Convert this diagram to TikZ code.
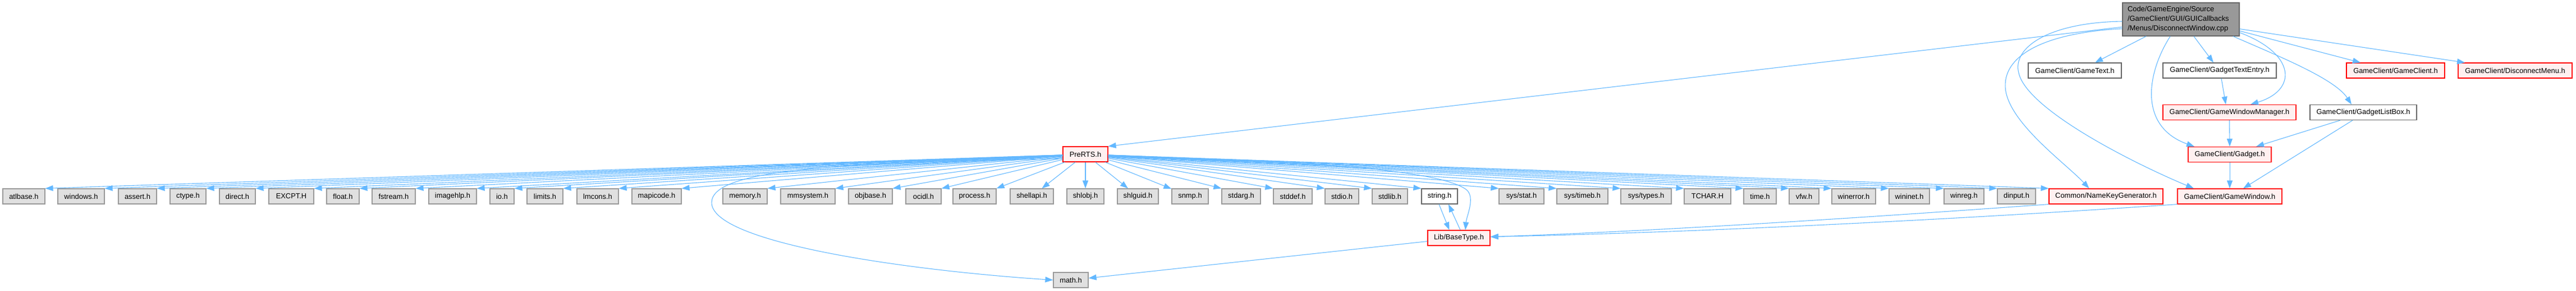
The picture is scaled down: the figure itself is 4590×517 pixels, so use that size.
\documentclass[tikz,border=0pt]{standalone}
\usepackage{fontspec}
\setmainfont{Liberation Sans}
\usetikzlibrary{arrows.meta}
\definecolor{gfill}{HTML}{E0E0E0}
\definecolor{gline}{HTML}{999999}
\definecolor{wline}{HTML}{666666}
\definecolor{rfill}{HTML}{FFF0F0}
\definecolor{rline}{HTML}{FF0000}
\definecolor{topfill}{HTML}{999999}
\definecolor{edgec}{HTML}{63B8FF}
\tikzset{
  box/.style={draw, rectangle, inner sep=0pt, minimum height=27pt, line width=1.2pt,
    font=\fontsize{12.9}{15}\selectfont, anchor=center},
  gbox/.style={box, draw=gline, fill=gfill},
  wbox/.style={box, draw=wline, fill=white},
  rbox/.style={box, draw=rline, fill=rfill},
  topbox/.style={box, draw=wline, fill=topfill, minimum height=59pt, text width=190pt,
    align=left, font=\fontsize{12.9}{17}\selectfont},
  edge/.style={draw=edgec, line width=1.1pt, -{Triangle[length=14pt,width=10pt]}},
}
\begin{document}
\begin{tikzpicture}[x=1pt,y=-1pt]
\useasboundingbox (0,0) rectangle (4590,517);
% top node
\node[topbox, minimum width=208pt] (top) at (3886,34.5) {Code/GameEngine/Source\\/GameClient/GUI/GUICallbacks\\/Menus/DisconnectWindow.cpp};
% second row
\node[wbox, minimum width=166pt] (gtext) at (3697,125.5) {GameClient/GameText.h};
\node[wbox, minimum width=202pt] (gte) at (3955,125.5) {GameClient/GadgetTextEntry.h};
\node[rbox, minimum width=175pt] (gcl) at (4268.5,125.5) {GameClient/GameClient.h};
\node[rbox, minimum width=203pt] (dmenu) at (4481.5,125.5) {GameClient/DisconnectMenu.h};
% third row
\node[rbox, minimum width=237pt] (gwm) at (3972.5,200) {GameClient/GameWindowManager.h};
\node[wbox, minimum width=190pt] (glb) at (4211,200) {GameClient/GadgetListBox.h};
% fourth row
\node[rbox, minimum width=80pt] (pre) at (1934,274.5) {PreRTS.h};
\node[rbox, minimum width=148pt] (gadget) at (3973,275) {GameClient/Gadget.h};
% main row
\node[gbox, minimum width=75pt] (atl) at (42.5,349.5) {atlbase.h};
\node[gbox, minimum width=83pt] (wnd) at (144.5,349.5) {windows.h};
\node[gbox, minimum width=68pt] (ast) at (245,349.5) {assert.h};
\node[gbox, minimum width=64pt] (cty) at (335,349.5) {ctype.h};
\node[gbox, minimum width=64pt] (dir) at (423,349.5) {direct.h};
\node[gbox, minimum width=80pt] (exc) at (519,349.5) {EXCPT.H};
\node[gbox, minimum width=58pt] (flo) at (611,349.5) {float.h};
\node[gbox, minimum width=77pt] (fst) at (701.5,349.5) {fstream.h};
\node[gbox, minimum width=85pt] (img) at (806.5,349.5) {imagehlp.h};
\node[gbox, minimum width=43pt] (ioh) at (894.5,349.5) {io.h};
\node[gbox, minimum width=64pt] (lim) at (971,349.5) {limits.h};
\node[gbox, minimum width=74pt] (lmc) at (1065,349.5) {lmcons.h};
\node[gbox, minimum width=88pt] (mapi) at (1170,349.5) {mapicode.h};
\node[gbox, minimum width=79pt] (mem) at (1327.5,349.5) {memory.h};
\node[gbox, minimum width=97pt] (mms) at (1439.5,349.5) {mmsystem.h};
\node[gbox, minimum width=78pt] (obj) at (1551,349.5) {objbase.h};
\node[gbox, minimum width=63pt] (oci) at (1645.5,349.5) {ocidl.h};
\node[gbox, minimum width=77pt] (proc) at (1736.5,349.5) {process.h};
\node[gbox, minimum width=77pt] (shapi) at (1838.5,349.5) {shellapi.h};
\node[gbox, minimum width=66pt] (shobj) at (1934,349.5) {shlobj.h};
\node[gbox, minimum width=73pt] (shguid) at (2027.5,349.5) {shlguid.h};
\node[gbox, minimum width=65pt] (snmp) at (2120.5,349.5) {snmp.h};
\node[gbox, minimum width=69pt] (sarg) at (2211.5,349.5) {stdarg.h};
\node[gbox, minimum width=69pt] (sdef) at (2303.5,349.5) {stddef.h};
\node[gbox, minimum width=60pt] (sio) at (2391,349.5) {stdio.h};
\node[gbox, minimum width=63pt] (slib) at (2476.5,349.5) {stdlib.h};
\node[wbox, minimum width=64pt] (strh) at (2565,349.5) {string.h};
\node[gbox, minimum width=80pt] (sstat) at (2711,349.5) {sys/stat.h};
\node[gbox, minimum width=91pt] (stimeb) at (2819.5,349.5) {sys/timeb.h};
\node[gbox, minimum width=90pt] (stypes) at (2933,349.5) {sys/types.h};
\node[gbox, minimum width=83pt] (tchar) at (3042.5,349.5) {TCHAR.H};
\node[gbox, minimum width=58pt] (timeh) at (3136,349.5) {time.h};
\node[gbox, minimum width=53pt] (vfw) at (3214.5,349.5) {vfw.h};
\node[gbox, minimum width=78pt] (werr) at (3303,349.5) {winerror.h};
\node[gbox, minimum width=72pt] (winet) at (3402,349.5) {wininet.h};
\node[gbox, minimum width=71pt] (wreg) at (3499.5,349.5) {winreg.h};
\node[gbox, minimum width=68pt] (dinp) at (3593,349.5) {dinput.h};
\node[rbox, minimum width=203pt] (nkg) at (3752.5,349.5) {Common/NameKeyGenerator.h};
\node[rbox, minimum width=186pt] (gw) at (3973,349.5) {GameClient/GameWindow.h};
% lower nodes
\node[rbox, minimum width=111pt] (base) at (2599.5,423.5) {Lib/BaseType.h};
\node[gbox, minimum width=62pt] (math) at (1908,498.5) {math.h};
% fan from PreRTS
\foreach \t in {atl,wnd,ast,cty,dir,exc,flo,fst,img,ioh,lim,lmc,mapi,mem,mms,obj,oci,proc}
  \draw[edge] (pre) -- (\t.north east);
\foreach \t in {shapi,shobj,shguid,snmp}
  \draw[edge] (pre) -- (\t);
\foreach \t in {sarg,sdef,sio,slib,strh,sstat,stimeb,stypes,tchar,timeh,vfw,werr,winet,wreg,dinp,nkg}
  \draw[edge] (pre) -- (\t.north west);
% PreRTS -> math.h
\draw[edge] ([yshift=-8pt]pre.west) .. controls (1500,290) and (1270,300) .. (1268,360)
  .. controls (1266,430) and (1600,480) .. (math.west);
% PreRTS -> BaseType
\draw[edge] ([yshift=-5pt]pre.east) .. controls (2300,285) and (2560,300) .. (2612,337)
  .. controls (2630,350) and (2613,385) .. ([xshift=11.5pt]base.north);
% string <-> BaseType
\draw[edge] ([xshift=-1pt]strh.south) -- ([xshift=-17pt]base.north);
\draw[edge] ([xshift=2.5pt]base.north) -- ([xshift=16pt]strh.south);
% BaseType -> math
\draw[edge] (base) -- (math);
% NameKeyGenerator / GameWindow -> BaseType
\draw[edge] (nkg.south west) .. controls (3450,378) and (3000,410) .. ([yshift=2pt]base.east);
\draw[edge] (gw.south west) .. controls (3600,383) and (3100,412) .. ([yshift=2pt]base.east);
% top node edges
\draw[edge] ([yshift=-13.5pt]top.west) -- (pre.north east);
\draw[edge] ([xshift=-62pt]top.south) -- ([xshift=36pt]gtext.north);
\draw[edge] ([xshift=23pt]top.south) -- ([xshift=-11pt]gte.north);
\draw[edge] ([yshift=-20.5pt]top.east) -- ([xshift=-62.5pt]gcl.north);
\draw[edge] ([yshift=-17pt]top.east) -- ([xshift=-89.5pt]dmenu.north);
\draw[edge] ([xshift=93pt]top.south) .. controls (4060,100) and (4160,140) .. ([xshift=-21pt]glb.north);
\draw[edge] ([yshift=-23.5pt]top.east) .. controls (4090,95) and (4095,160) .. ([xshift=37.5pt]gwm.north);
\draw[edge] ([xshift=-19pt]top.south) .. controls (3825,130) and (3810,225) .. ([xshift=-63pt]gadget.north);
\draw[edge] ([yshift=-16.5pt]top.west) .. controls (3650,58) and (3572,95) .. (3573,153)
  .. controls (3574,215) and (3680,290) .. ([xshift=-30pt]nkg.north);
\draw[edge] ([yshift=-3.5pt]top.west) .. controls (3650,40) and (3585,85) .. (3597,130)
  .. controls (3612,195) and (3800,290) .. ([xshift=-64pt]gw.north);
% inner edges
\draw[edge] ([xshift=3pt]gte.south) -- ([xshift=-6.5pt]gwm.north);
\draw[edge] (gwm.south) -- (gadget.north);
\draw[edge] ([xshift=-41pt]glb.south) -- ([xshift=47pt]gadget.north);
\draw[edge] ([xshift=-19pt]glb.south) -- ([xshift=24pt]gw.north);
\draw[edge] (gadget.south) -- (gw.north);
\end{tikzpicture}
\end{document}
